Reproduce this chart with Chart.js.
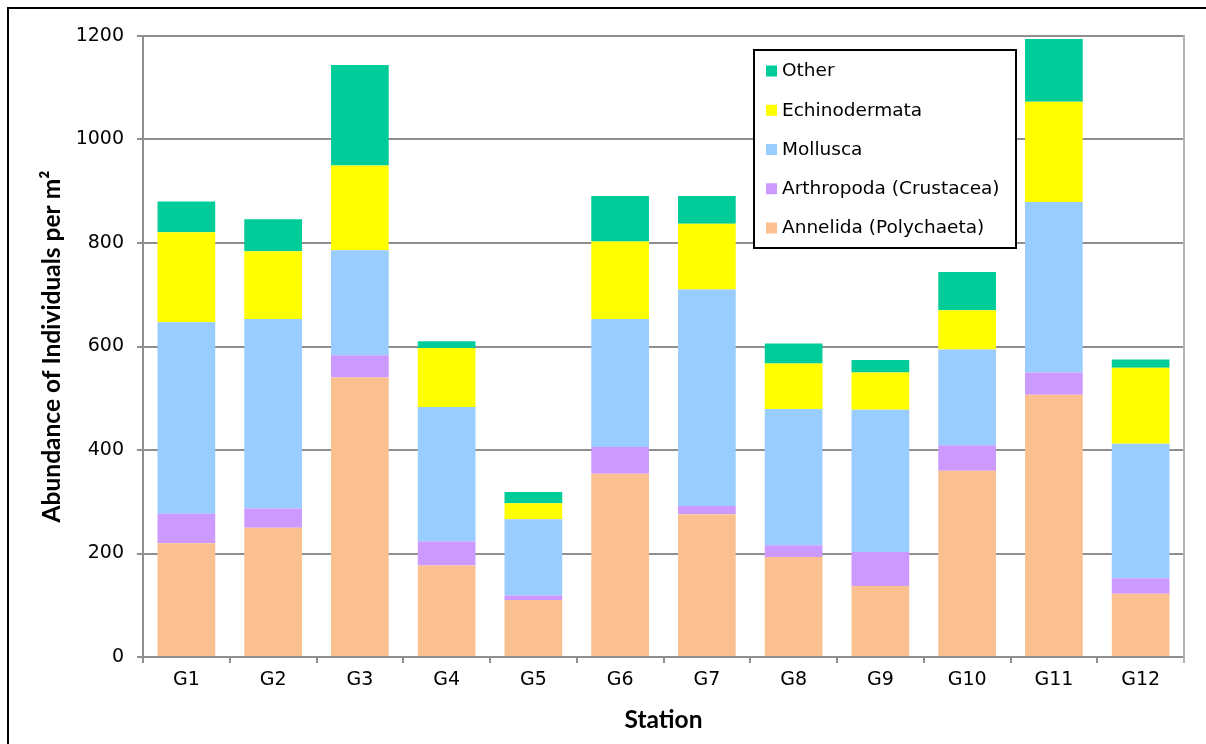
<!DOCTYPE html>
<html>
<head>
<meta charset="utf-8">
<script src="https://cdn.jsdelivr.net/npm/chart.js@4/dist/chart.umd.min.js"></script>
<style>
  html, body { margin: 0; padding: 0; background: #ffffff; }
  #wrap { position: relative; width: 1206px; height: 744px; }
</style>
</head>
<body>
<div id="wrap"><canvas id="chart" width="1206" height="744"></canvas></div>
<script>
// Benthic macrofauna abundance by station (individuals per m²)
const stations = ['G1', 'G2', 'G3', 'G4', 'G5', 'G6', 'G7', 'G8', 'G9', 'G10', 'G11', 'G12'];
const annelida = [220, 250, 540, 177, 110, 354, 276, 193, 137, 360, 507, 122];
const arthropoda = [57, 37, 43, 46, 9, 52, 16, 23, 66, 49, 43, 30];
const mollusca = [370, 366, 203, 260, 147, 247, 418, 263, 275, 185, 329, 260];
const echinodermata = [174, 131, 164, 114, 31, 150, 127, 88, 72, 76, 194, 147];
const other = [59, 62, 194, 13, 22, 88, 54, 39, 24, 74, 121, 16];
const yTicks = [0, 200, 400, 600, 800, 1000, 1200];

const groups = [
  { label: 'Annelida (Polychaeta)', data: annelida, color: '#FAC090' },
  { label: 'Arthropoda (Crustacea)', data: arthropoda, color: '#CC99FF' },
  { label: 'Mollusca', data: mollusca, color: '#99CCFF' },
  { label: 'Echinodermata', data: echinodermata, color: '#FFFF00' },
  { label: 'Other', data: other, color: '#00CC99' }
];

const gridGray = '#8f8f8f';
const tickFont = { family: '"DejaVu Sans", sans-serif', size: 19 };
const titleFont = { family: 'Lato, "Open Sans", sans-serif', size: 24.5, weight: 'bold' };

// Outer frame lines and the right edge of the plot area
const framePlugin = {
  id: 'frame',
  beforeDraw(chart) {
    const ctx = chart.ctx;
    ctx.save();
    ctx.fillStyle = '#ffffff';
    ctx.fillRect(0, 0, chart.width, chart.height);
    ctx.fillStyle = '#000000';
    ctx.fillRect(7, 7, 2, chart.height);
    ctx.fillRect(7, 7, chart.width, 2);
    ctx.restore();
  },
  afterDraw(chart) {
    const { ctx, chartArea } = chart;
    ctx.save();
    ctx.strokeStyle = '#b3b3b3';
    ctx.lineWidth = 2;
    ctx.beginPath();
    ctx.moveTo(chartArea.right, chartArea.top - 1);
    ctx.lineTo(chartArea.right, chartArea.bottom + 6);
    ctx.stroke();
    ctx.restore();
  }
};

// Boxed legend, listed from the top of the stack downwards
const boxLegendPlugin = {
  id: 'boxLegend',
  afterDraw(chart) {
    const ctx = chart.ctx;
    const box = { x: 754, y: 50, w: 262, h: 198 };
    ctx.save();
    ctx.fillStyle = '#ffffff';
    ctx.fillRect(box.x, box.y, box.w, box.h);
    ctx.strokeStyle = '#000000';
    ctx.lineWidth = 2;
    ctx.strokeRect(box.x, box.y, box.w, box.h);
    ctx.font = '18.5px "DejaVu Sans", sans-serif';
    ctx.textBaseline = 'middle';
    ctx.textAlign = 'left';
    const items = chart.data.datasets.slice().reverse();
    items.forEach((ds, i) => {
      const cy = 71 + i * 39.25;
      ctx.fillStyle = ds.backgroundColor;
      ctx.fillRect(766, cy - 5.5, 11, 11);
      ctx.fillStyle = '#000000';
      ctx.fillText(ds.label, 782, cy + 0.5);
    });
    ctx.restore();
  }
};

new Chart(document.getElementById('chart'), {
  type: 'bar',
  data: {
    labels: stations,
    datasets: groups.map(g => ({
      label: g.label,
      data: g.data,
      backgroundColor: g.color,
      borderWidth: 0,
      categoryPercentage: 1.0,
      barPercentage: 0.665
    }))
  },
  options: {
    responsive: false,
    animation: false,
    layout: { padding: { left: 10, top: 36, right: 22, bottom: 0 } },
    plugins: {
      legend: { display: false },
      tooltip: { enabled: false }
    },
    scales: {
      x: {
        stacked: true,
        grid: {
          display: true,
          drawOnChartArea: false,
          drawTicks: true,
          tickLength: 6,
          color: gridGray,
          lineWidth: 2,
          offset: true
        },
        border: { display: true, color: gridGray, width: 2 },
        ticks: { color: '#000000', font: tickFont, padding: 6, maxRotation: 0 },
        title: {
          display: true,
          text: 'Station',
          color: '#000000',
          font: titleFont,
          padding: { top: 0, bottom: 9 }
        },
        afterFit(scale) { scale.height = 87; }
      },
      y: {
        stacked: true,
        min: 0,
        max: 1200,
        afterBuildTicks(scale) { scale.ticks = yTicks.map(v => ({ value: v })); },
        grid: {
          color: gridGray,
          lineWidth: 2,
          drawTicks: true,
          tickLength: 6
        },
        border: { display: true, color: gridGray, width: 2 },
        ticks: {
          color: '#000000',
          font: tickFont,
          padding: 13,
          callback: (value) => String(value)
        },
        title: {
          display: true,
          text: 'Abundance of Individuals per m²',
          color: '#000000',
          font: titleFont,
          padding: { top: 27, bottom: 0 }
        },
        afterFit(scale) { scale.width = 133; }
      }
    }
  },
  plugins: [framePlugin, boxLegendPlugin]
});
</script>
</body>
</html>
